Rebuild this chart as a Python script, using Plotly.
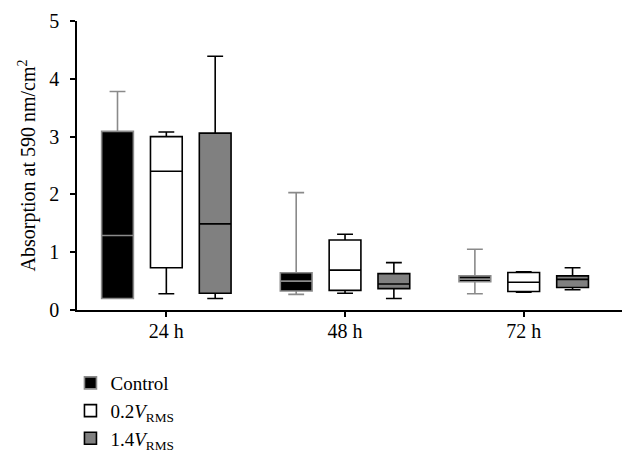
import plotly.graph_objects as go

times = ["24 h", "48 h", "72 h"]
series = ["Control", "0.2<i>V</i><sub>RMS</sub>", "1.4<i>V</i><sub>RMS</sub>"]

control_low = [0.20, 0.27, 0.28]
control_q1 = [0.20, 0.33, 0.49]
control_med = [1.29, 0.50, 0.535]
control_q3 = [3.09, 0.645, 0.59]
control_high = [3.78, 2.03, 1.05]

v02_low = [0.28, 0.29, 0.31]
v02_q1 = [0.73, 0.34, 0.32]
v02_med = [2.40, 0.69, 0.48]
v02_q3 = [3.00, 1.21, 0.65]
v02_high = [3.08, 1.31, 0.66]

v14_low = [0.20, 0.20, 0.35]
v14_q1 = [0.29, 0.37, 0.39]
v14_med = [1.49, 0.45, 0.53]
v14_q3 = [3.06, 0.63, 0.59]
v14_high = [4.39, 0.82, 0.73]

fills = ["#000000", "#ffffff", "#808080"]
lines = ["#8a8a8a", "#000000", "#000000"]

stats = [
    (control_low, control_q1, control_med, control_q3, control_high),
    (v02_low, v02_q1, v02_med, v02_q3, v02_high),
    (v14_low, v14_q1, v14_med, v14_q3, v14_high),
]

FONT = "Liberation Serif"

fig = go.Figure()
for name, (lo, q1, med, q3, hi), fc, lc in zip(series, stats, fills, lines):
    fig.add_trace(go.Box(
        name=name,
        x=times,
        lowerfence=lo, q1=q1, median=med, q3=q3, upperfence=hi,
        fillcolor=fc,
        line=dict(color=lc, width=1.6),
        whiskerwidth=0.5,
        boxpoints=False,
        hoverinfo="skip",
    ))

fig.update_layout(
    width=636, height=466,
    margin=dict(l=77, r=14, t=21, b=156, autoexpand=False),
    paper_bgcolor="white", plot_bgcolor="white",
    boxmode="group",
    boxgap=0.18,
    boxgroupgap=0.35,
    font=dict(family=FONT, color="#000000", size=19),
    showlegend=True,
    legend=dict(
        x=-0.012, xanchor="left", y=-0.187, yanchor="top",
        font=dict(family=FONT, size=19),
        bgcolor="rgba(0,0,0,0)",
        tracegroupgap=0,
        itemwidth=30,
    ),
    xaxis=dict(
        type="category",
        range=[-0.5, 2.55],
        showgrid=False, zeroline=False,
        showline=True, linecolor="#000000", linewidth=1.6,
        ticks="outside", ticklen=5, tickwidth=1.6, tickcolor="#000000",
        tickfont=dict(family=FONT, size=20),
        ticklabelstandoff=-3,
    ),
    yaxis=dict(
        range=[0, 5],
        tickvals=[0, 1, 2, 3, 4, 5],
        showgrid=False, zeroline=False,
        showline=True, linecolor="#000000", linewidth=1.6,
        ticks="outside", ticklen=5, tickwidth=1.6, tickcolor="#000000",
        tickfont=dict(family=FONT, size=20),
        ticklabelstandoff=7,
        title=dict(text="Absorption at 590 nm/cm<sup>2</sup>",
                   font=dict(family=FONT, size=20), standoff=8),
    ),
)

fig.write_html("out.html", config={"displayModeBar": False},
               post_script="document.body.style.margin='0';")
